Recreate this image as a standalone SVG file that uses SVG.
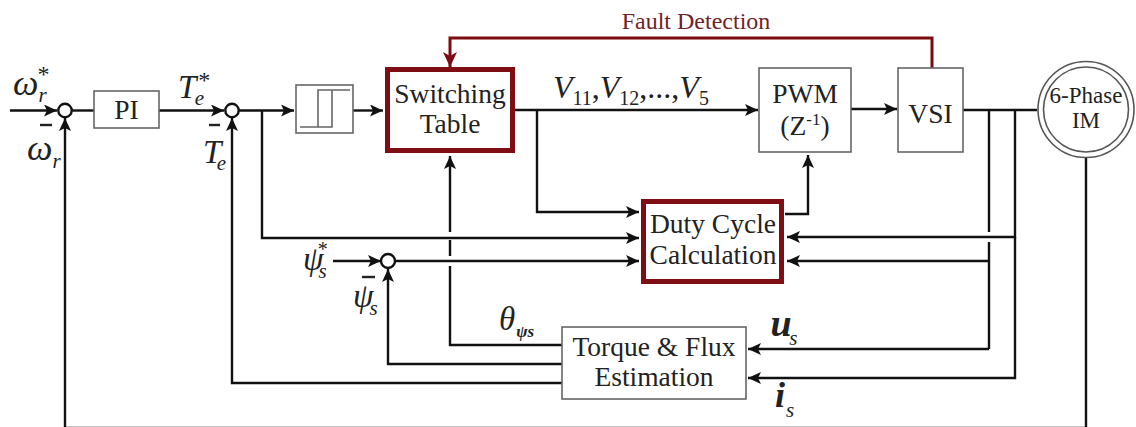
<svg xmlns="http://www.w3.org/2000/svg" width="1136" height="427" viewBox="0 0 1136 427">
<defs>
<marker id="a" markerUnits="userSpaceOnUse" markerWidth="14" markerHeight="12" refX="13" refY="6" orient="auto"><path d="M0 0L13 6L0 12L3 6Z" fill="#111"/></marker>
<marker id="r" markerUnits="userSpaceOnUse" markerWidth="16" markerHeight="14" refX="15" refY="7" orient="auto"><path d="M0 0L15 7L0 14L4 7Z" fill="#7a0c12"/></marker>
</defs>
<style>
text{font-family:"Liberation Serif","Times New Roman",serif;fill:#222;text-anchor:middle}
.box{fill:#fff;stroke:#666;stroke-width:1.6}
.red{fill:#fff;stroke:#7f0d14;stroke-width:5}
.c{fill:none;stroke:#111;stroke-width:2.4}
.h{marker-end:url(#a)}
.sum{fill:#fff;stroke:#111;stroke-width:2.4}
.l{font-size:27.5px}
text.m{font-style:italic;font-size:33px;text-anchor:start}
text.w{font-size:36px}
text.b{font-weight:bold}
text.u{font-size:38px}
.s{font-size:21px;font-weight:normal}
.t{font-size:24px;font-style:normal;font-weight:normal}
.minus{fill:none;stroke:#222;stroke-width:2.4}
</style>
<rect width="1136" height="427" fill="#fff"/>
<g id="connectors">
<path class="c h" d="M10 110.5H57"/>
<path class="c" d="M72 110.5H94"/>
<path class="c h" d="M159 110.5H224"/>
<path class="c h" d="M239 110.5H294"/>
<path class="c h" d="M353 110.5H383"/>
<path class="c h" d="M515 110H758"/>
<path class="c h" d="M851 109H897"/>
<path class="c" d="M963 110H1037"/>
<path class="c h" d="M65 428V118"/>
<path class="c" d="M65 428H1086V157"/>
<path class="c h" d="M562 383H232V118"/>
<path class="c h" d="M262 110V238H639"/>
<path class="c h" d="M537 110V212H639"/>
<path class="c h" d="M785 214H808V155"/>
<path class="c h" d="M333 261H381"/>
<path class="c h" d="M395 261H639"/>
<path class="c h" d="M562 364H388V269"/>
<path class="c" d="M562 345H450V266M450 256V240"/>
<path class="c h" d="M450 232V156"/>
<path class="c" d="M989 110V232M989 242V349"/>
<path class="c h" d="M1015 110V237H787"/>
<path class="c h" d="M989 261H787"/>
<path class="c h" d="M989 349H748"/>
<path class="c h" d="M1015 237V378H748"/>
<path d="M932 68V38H450V67" fill="none" stroke="#7a0c12" stroke-width="3" marker-end="url(#r)"/>
</g>
<g id="sum1"><circle class="sum" cx="65" cy="110.5" r="6.7"/><path class="minus" d="M40 125H52"/></g>
<g id="sum2"><circle class="sum" cx="232" cy="110.5" r="6.7"/><path class="minus" d="M209 125H220"/></g>
<g id="sum3"><circle class="sum" cx="388" cy="261" r="7"/><path class="minus" d="M362 277H375"/></g>
<g id="pi"><rect class="box" x="94" y="91" width="65" height="37"/><text class="l" x="126.500" y="119">PI</text></g>
<g id="hysteresis"><rect class="box" x="296" y="85" width="57" height="48"/><path d="M300 127H332V90M318 127V90H350" fill="none" stroke="#666" stroke-width="1.6"/></g>
<g id="switching-table"><rect class="red" x="387.500" y="69.500" width="125" height="81"/><text class="l" x="450" y="103">Switching</text><text class="l" x="450" y="133">Table</text></g>
<g id="pwm"><rect class="box" x="759" y="68" width="92" height="84"/><text class="l" x="805" y="103">PWM</text><text class="l" x="805" y="135">(Z<tspan font-size="17" dy="-10">-1</tspan><tspan dy="10">)</tspan></text></g>
<g id="vsi"><rect class="box" x="898" y="68" width="65" height="84"/><text class="l" x="930.500" y="123">VSI</text></g>
<g id="im"><circle cx="1086" cy="109.500" r="48" fill="#fff" stroke="#555" stroke-width="1.6"/><circle cx="1086" cy="109.500" r="42.500" fill="#fff" stroke="#555" stroke-width="1.6"/><text x="1086" y="103" font-size="23">6-Phase</text><text x="1086" y="128" font-size="23">IM</text></g>
<g id="duty-cycle"><rect class="red" x="643.500" y="201.500" width="138" height="80"/><text class="l" x="713" y="233">Duty Cycle</text><text class="l" x="713" y="264">Calculation</text></g>
<g id="estimation"><rect class="box" x="562" y="327" width="184" height="72"/><text class="l" x="654" y="356">Torque &amp; Flux</text><text class="l" x="654" y="386">Estimation</text></g>
<g id="labels">
<text x="696" y="29" font-size="24" style="fill:#6e2328">Fault Detection</text>
<text class="m w" x="13" y="95">ω<tspan class="s" dy="7">r</tspan><tspan class="t" dx="-9" dy="-20">*</tspan></text>
<text class="m w" x="27" y="160">ω<tspan class="s" dy="8">r</tspan></text>
<text class="m" x="178" y="98">T<tspan class="s" dx="-1.500" dy="7">e</tspan><tspan class="t" dx="-6" dy="-17">*</tspan></text>
<text class="m" x="203" y="163">T<tspan class="s" dx="-4.500" dy="7">e</tspan></text>
<text class="m" x="303" y="270">ψ<tspan class="s" dx="-5" dy="8">s</tspan><tspan class="t" dx="-9" dy="-22" style="font-size:20px">*</tspan></text>
<text class="m" x="353" y="307">ψ<tspan class="s" dx="-4" dy="8">s</tspan></text>
<text class="m" x="499" y="330">θ<tspan dx="1" dy="7" style="font-size:17px;font-weight:bold">ψs</tspan></text>
<text class="m b u" x="770.500" y="336">u<tspan class="s" dx="-2.500" dy="9">s</tspan></text>
<text class="m b" x="775" y="407" style="font-size:36px">i<tspan class="s" dx="1" dy="10">s</tspan></text>
<text x="553" y="98" font-size="32" font-style="italic" style="text-anchor:start">V<tspan font-size="20" font-style="normal" dy="7">11</tspan><tspan font-style="normal" dy="-7">,</tspan>V<tspan font-size="20" font-style="normal" dy="7">12</tspan><tspan font-style="normal" dy="-7">,...,</tspan>V<tspan font-size="20" font-style="normal" dy="7">5</tspan></text>
</g>
</svg>
